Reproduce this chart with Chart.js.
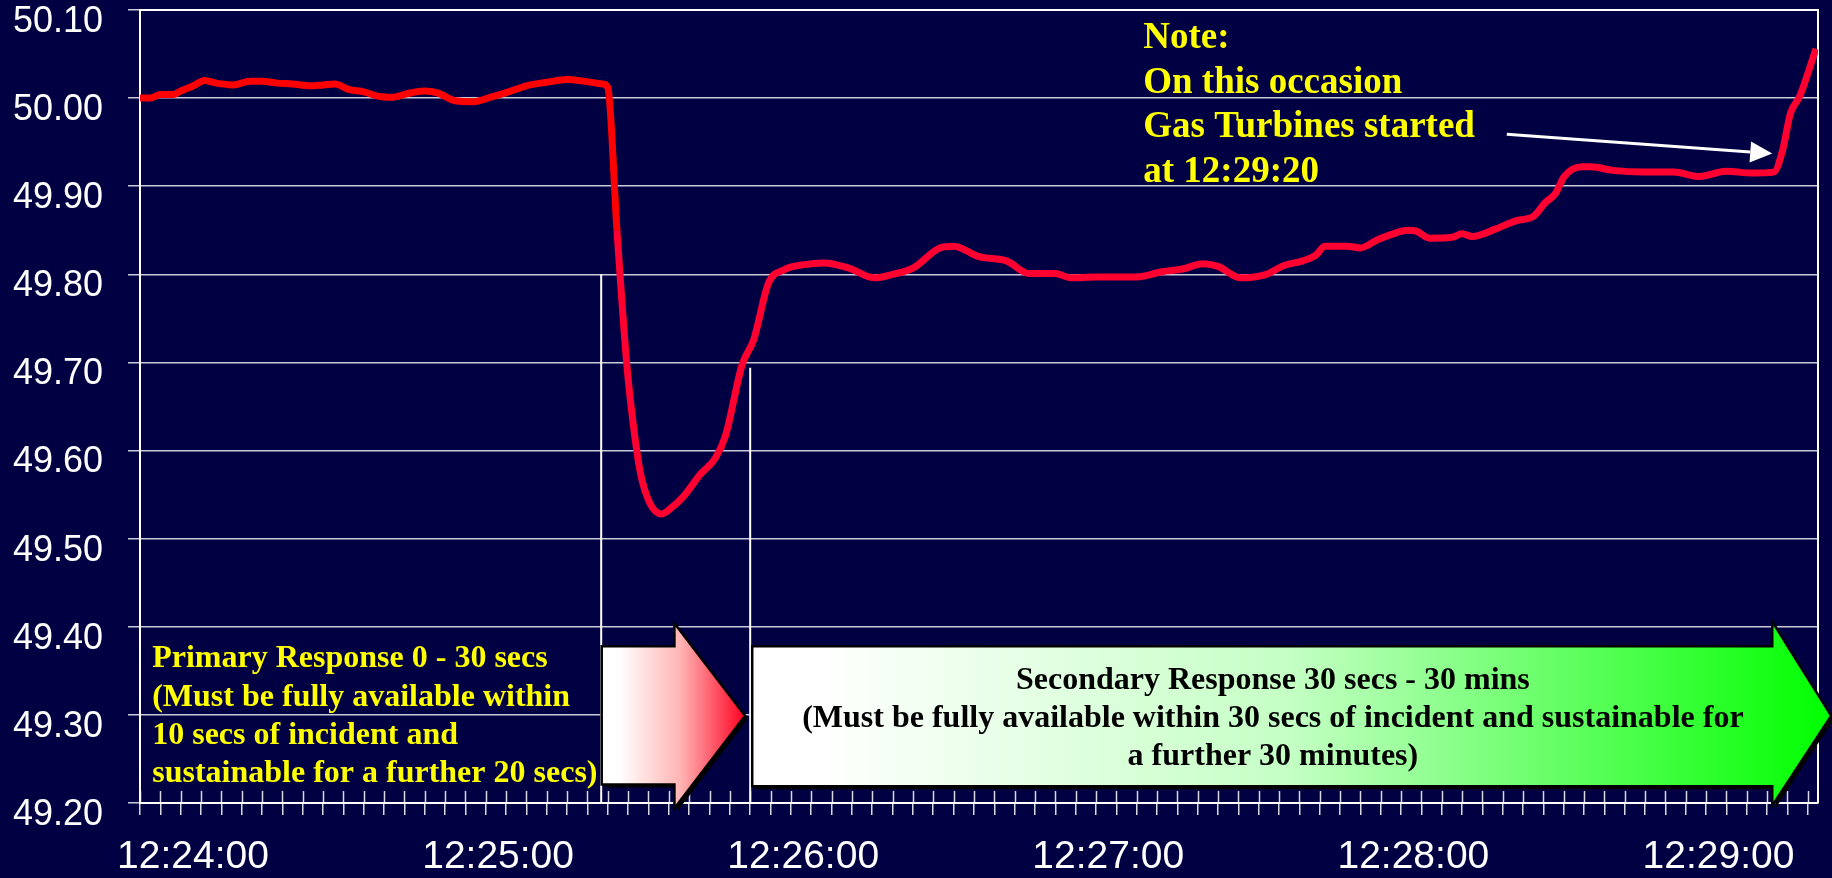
<!DOCTYPE html>
<html>
<head>
<meta charset="utf-8">
<title>System frequency 12:24 - 12:29</title>
<script src="https://cdn.jsdelivr.net/npm/chart.js@4.4.1/dist/chart.umd.min.js"></script>
<style>
    html, body { margin: 0; padding: 0; background: #000042; }
    canvas { display: block; }
</style>
</head>
<body>
<canvas id="freqChart" width="1832" height="878"></canvas>
<script>
// seconds after 12:24:00
const seconds = [
    0, 2, 4, 6.5, 8, 10.5, 12.7, 15, 18.3, 21.6, 24, 27, 30, 33.5, 36, 38.3, 41, 44, 47, 49.7,
    52.5, 55.9, 58.5, 62, 65.5, 69, 72.5, 76, 80, 84, 87.5, 91, 92, 93.8, 95.7, 97, 98.4, 100.3,
    102.6, 104.5, 106.9, 110.2, 113.1, 115.1, 118.4, 120.7, 123.6, 126.6, 130.6, 134.5, 139.4,
    144.5, 148, 152, 157.3, 160, 165, 170.5, 174.8, 180, 183, 188, 192, 196, 201, 205, 209, 212,
    216.5, 221.5, 225, 228.5, 231.3, 233, 237.3, 240, 243.3, 246, 249.3, 251, 253.6, 258, 260,
    262, 266.4, 270.7, 274.1, 276.3, 278.4, 280.1, 283.6, 285.3, 289.6, 295.6, 301.6, 306.7,
    311.9, 317, 321.3, 323, 324.6, 326.4, 329.6
];
// system frequency (Hz)
const frequency = [
    50.000, 50.000, 50.004, 50.004, 50.008, 50.014, 50.020, 50.017, 50.015, 50.019, 50.019, 50.017,
    50.016, 50.014, 50.015, 50.016, 50.010, 50.007, 50.002, 50.001, 50.005, 50.008, 50.006, 49.997,
    49.996, 50.001, 50.007, 50.014, 50.018, 50.021, 50.019, 50.016, 50.012, 49.850, 49.700, 49.630,
    49.575, 49.540, 49.528, 49.535, 49.548, 49.573, 49.591, 49.616, 49.697, 49.726, 49.790, 49.805,
    49.811, 49.813, 49.807, 49.796, 49.800, 49.807, 49.830, 49.832, 49.820, 49.815, 49.801, 49.801,
    49.796, 49.797, 49.797, 49.797, 49.803, 49.806, 49.812, 49.809, 49.796, 49.800, 49.810, 49.815,
    49.822, 49.832, 49.832, 49.830, 49.839, 49.845, 49.850, 49.849, 49.841, 49.842, 49.846, 49.843,
    49.851, 49.861, 49.866, 49.881, 49.892, 49.911, 49.922, 49.922, 49.918, 49.916, 49.916, 49.911,
    49.917, 49.915, 49.916, 49.940, 49.983, 50.002, 50.056
];
const timeLabels = ["12:24:00", "12:25:00", "12:26:00", "12:27:00", "12:28:00", "12:29:00"];

const noteLines = ["Note:", "On this occasion", "Gas Turbines started", "at 12:29:20"];
const primaryLines = [
    "Primary Response 0 - 30 secs",
    "(Must be fully available within",
    "10 secs of incident and",
    "sustainable for a further 20 secs)"
];
const secondaryLines = [
    "Secondary Response 30 secs - 30 mins",
    "(Must be fully available within 30 secs of incident and sustainable for",
    "a further 30 minutes)"
];

const BG = "#000042";
const SERIF = "'Liberation Serif', 'Times New Roman', serif";

function blockArrow(ctx, pts, fill) {
    ctx.save();
    ctx.beginPath();
    pts.forEach(([px, py], i) => i ? ctx.lineTo(px + 3, py + 3) : ctx.moveTo(px + 3, py + 3));
    ctx.closePath();
    ctx.fillStyle = "#000000";
    ctx.fill();
    ctx.beginPath();
    pts.forEach(([px, py], i) => i ? ctx.lineTo(px, py) : ctx.moveTo(px, py));
    ctx.closePath();
    ctx.fillStyle = fill;
    ctx.fill();
    ctx.lineWidth = 2.5;
    ctx.strokeStyle = "#000000";
    ctx.lineJoin = "miter";
    ctx.stroke();
    ctx.restore();
}

function arrowPoints(x, y, s) {
    return [
        [x(s.left), y(s.bodyTop)], [x(s.base), y(s.bodyTop)], [x(s.base), y(s.headTop)],
        [x(s.tip), y(s.mid)], [x(s.base), y(s.headBottom)], [x(s.base), y(s.bodyBottom)],
        [x(s.left), y(s.bodyBottom)]
    ];
}

const overlay = {
    id: "overlay",
    beforeDraw(chart) {
        const ctx = chart.ctx;
        ctx.save();
        ctx.fillStyle = BG;
        ctx.fillRect(0, 0, chart.width, chart.height);
        ctx.restore();
    },
    beforeDatasetsDraw(chart) {
        const { ctx, chartArea: a, scales } = chart;
        const x = v => scales.x.getPixelForValue(v);
        const y = v => scales.y.getPixelForValue(v);
        ctx.save();
        ctx.strokeStyle = "#ffffff";
        ctx.lineWidth = 2;
        ctx.beginPath();
        ctx.moveTo(a.left, a.top);
        ctx.lineTo(a.right, a.top);
        ctx.lineTo(a.right, a.bottom);
        ctx.stroke();

        // tick marks cross the axis
        ctx.lineWidth = 1.5;
        ctx.strokeStyle = "rgba(255,255,255,0.85)";
        scales.x.ticks.forEach(t => {
            const px = Math.round(x(t.value)) + 0.5;
            ctx.beginPath();
            ctx.moveTo(px, a.bottom - 12);
            ctx.lineTo(px, a.bottom);
            ctx.stroke();
        });

        // start of primary and secondary response
        ctx.lineWidth = 2;
        ctx.strokeStyle = "#ffffff";
        [[90.7, 49.80], [120, 49.694]].forEach(([t, f]) => {
            ctx.beginPath();
            ctx.moveTo(x(t), y(f));
            ctx.lineTo(x(t), a.bottom);
            ctx.stroke();
        });
        ctx.restore();
    },
    afterDatasetsDraw(chart) {
        const { ctx, scales } = chart;
        const x = v => scales.x.getPixelForValue(v);
        const y = v => scales.y.getPixelForValue(v);

        // red arrow (primary)
        const red = { left: 90.8, base: 105.1, tip: 119.0, bodyTop: 49.378, bodyBottom: 49.221,
                      headTop: 49.404, headBottom: 49.194, mid: 49.299 };
        const rg = ctx.createLinearGradient(x(red.left), 0, x(red.tip), 0);
        rg.addColorStop(0, "#ffffff");
        rg.addColorStop(0.12, "#ffffff");
        rg.addColorStop(0.55, "#ffb4b4");
        rg.addColorStop(1, "#ff0020");
        blockArrow(ctx, arrowPoints(x, y, red), rg);

        // green arrow (secondary)
        const green = { left: 120.4, base: 321.0, tip: 332.6, bodyTop: 49.378, bodyBottom: 49.219,
                        headTop: 49.406, headBottom: 49.197, mid: 49.299 };
        const gg = ctx.createLinearGradient(x(green.left), 0, x(green.tip), 0);
        gg.addColorStop(0, "#ffffff");
        gg.addColorStop(0.06, "#ffffff");
        gg.addColorStop(0.5, "#c4ffc4");
        gg.addColorStop(0.8, "#50ff50");
        gg.addColorStop(1, "#00ff00");
        blockArrow(ctx, arrowPoints(x, y, green), gg);

        ctx.save();
        ctx.textBaseline = "alphabetic";

        // secondary response text
        ctx.font = "bold 32px " + SERIF;
        ctx.fillStyle = "#000000";
        ctx.textAlign = "center";
        secondaryLines.forEach((line, i) => ctx.fillText(line, x(222.8), y(49.329) + i * 38));

        // primary response text
        ctx.fillStyle = "#ffff00";
        ctx.textAlign = "left";
        primaryLines.forEach((line, i) => ctx.fillText(line, x(2.4), y(49.354) + i * 38.2));

        // note
        ctx.font = "bold 37px " + SERIF;
        noteLines.forEach((line, i) => ctx.fillText(line, x(197.3), y(50.057) + i * 44.7));

        // note arrow
        const x0 = x(268.8), y0 = y(49.959), x1 = x(321.0), y1 = y(49.937);
        const len = Math.hypot(x1 - x0, y1 - y0);
        const ux = (x1 - x0) / len, uy = (y1 - y0) / len;
        const hx = x1 - ux * 22, hy = y1 - uy * 22;
        ctx.strokeStyle = "#ffffff";
        ctx.fillStyle = "#ffffff";
        ctx.lineWidth = 3;
        ctx.beginPath();
        ctx.moveTo(x0, y0);
        ctx.lineTo(hx, hy);
        ctx.stroke();
        ctx.beginPath();
        ctx.moveTo(x1, y1);
        ctx.lineTo(hx - uy * 10.5, hy + ux * 10.5);
        ctx.lineTo(hx + uy * 10.5, hy - ux * 10.5);
        ctx.closePath();
        ctx.fill();
        ctx.restore();
    }
};

const ctx = document.getElementById("freqChart").getContext("2d");
const freqChart = new Chart(ctx, {
    type: "line",
    data: {
        datasets: [{
            label: "Frequency (Hz)",
            data: seconds.map((s, i) => ({ x: s, y: frequency[i] })),
            borderColor: "#ff0000",
            borderWidth: 7,
            pointRadius: 0,
            cubicInterpolationMode: "monotone",
            segment: {
                borderColor: c => c.p0.parsed.x < 93 ? "#ff0000" : "#ff0030"
            }
        }]
    },
    options: {
        responsive: false,
        animation: false,
        events: [],
        layout: { padding: { top: 10, right: 14, left: 0, bottom: 0 } },
        plugins: {
            legend: { display: false },
            tooltip: { enabled: false },
            title: { display: false }
        },
        scales: {
            x: {
                type: "linear",
                min: 0,
                max: 330,
                afterFit: s => { s.height = 75; s.paddingLeft = 0; s.paddingRight = 0; },
                border: { display: true, color: "#ffffff", width: 2 },
                grid: {
                    drawOnChartArea: false,
                    drawTicks: true,
                    tickLength: 12,
                    color: "rgba(255,255,255,0.85)",
                    lineWidth: 1.5
                },
                ticks: {
                    stepSize: 4,
                    autoSkip: false,
                    includeBounds: false,
                    maxRotation: 0,
                    labelOffset: 53,
                    padding: 19,
                    color: "#ffffff",
                    font: { family: "'Liberation Sans', Arial, sans-serif", size: 39 },
                    callback: v => v % 60 === 0 ? (timeLabels[v / 60] || "") : ""
                }
            },
            y: {
                min: 49.2,
                max: 50.1,
                afterFit: s => { s.width = 140; s.paddingTop = 0; s.paddingBottom = 0; },
                border: { display: true, color: "#ffffff", width: 2 },
                grid: {
                    color: "#c8c8d8",
                    lineWidth: 1.5,
                    tickLength: 12
                },
                ticks: {
                    stepSize: 0.1,
                    labelOffset: 12,
                    padding: 25,
                    color: "#ffffff",
                    font: { family: "'Liberation Sans', Arial, sans-serif", size: 36 },
                    callback: v => v.toFixed(2)
                }
            }
        }
    },
    plugins: [overlay]
});
</script>
</body>
</html>
